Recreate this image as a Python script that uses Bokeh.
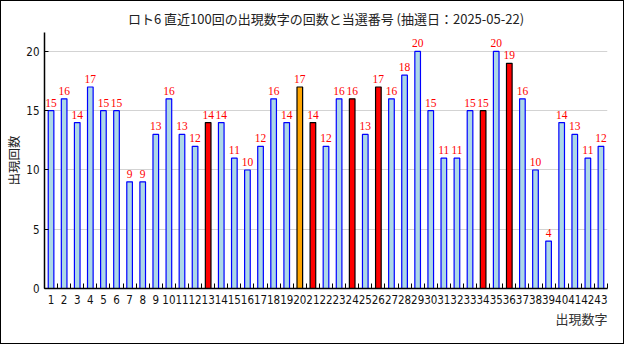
from bokeh.plotting import figure
from bokeh.models import ColumnDataSource, FixedTicker, Range1d, Title
from bokeh.embed import file_html
from bokeh.resources import INLINE

numbers = list(range(1, 44))
counts = [15, 16, 14, 17, 15, 15, 9, 9, 13, 16, 13, 12, 14, 14, 11, 10, 12, 16, 14, 17,
          14, 12, 16, 16, 13, 17, 16, 18, 20, 15, 11, 11, 15, 15, 20, 19, 16, 10, 4, 14,
          13, 11, 12]
main_numbers = [13, 21, 24, 26, 34, 36]
bonus_number = [20]
y_ticks = [0, 5, 10, 15, 20]

fills = []
lines = []
for n in numbers:
    if n in main_numbers:
        fills.append("#ff0000"); lines.append("#000000")
    elif n in bonus_number:
        fills.append("#ffa500"); lines.append("#000000")
    else:
        fills.append("#add8e6"); lines.append("#0000ff")

src = ColumnDataSource(dict(x=numbers, top=counts, fill=fills, line=lines,
                            lbl=[str(c) for c in counts]))

CJK = "Noto Sans CJK JP"
NUM = "DejaVu Sans Condensed"

p = figure(width=624, height=344, output_backend="svg", toolbar_location=None,
           x_range=Range1d(0.5, 43.5), y_range=Range1d(0, 21.6),
           min_border_left=40, min_border_right=18, min_border_top=30, min_border_bottom=57)
p.title.text = "ロト6 直近100回の出現数字の回数と当選番号 (抽選日：2025-05-22)"
p.title.align = "center"
p.title.text_font = CJK
p.title.text_font_size = "13px"
p.title.text_font_style = "normal"
p.title.text_color = "#222222"
p.title.standoff = 10

p.vbar(x="x", top="top", width=0.43, bottom=0, source=src,
       fill_color="fill", line_color="line", line_width=1.2)
p.text(x="x", y="top", text="lbl", source=src, text_color="#ff0000",
       text_font_size="11.5px", text_align="center", text_baseline="bottom",
       y_offset=-4, text_font=NUM)

p.outline_line_color = None
p.xgrid.grid_line_color = None
p.ygrid.grid_line_color = "#d3d3d3"
p.ygrid.ticker = FixedTicker(ticks=y_ticks[1:])

p.xaxis.ticker = FixedTicker(ticks=numbers, minor_ticks=[n + 0.5 for n in range(0, 44)])
p.xaxis.major_tick_in = 0
p.xaxis.major_tick_out = 0
p.xaxis.minor_tick_in = 5
p.xaxis.minor_tick_out = 0
p.xaxis.minor_tick_line_color = "black"
p.xaxis.major_label_text_font = NUM
p.xaxis.major_label_text_font_size = "11.5px"
p.xaxis.major_label_standoff = 6
p.xaxis.major_label_text_color = "#111111"

p.yaxis.ticker = FixedTicker(ticks=y_ticks)
p.yaxis.major_tick_in = 4
p.yaxis.major_tick_out = 0
p.yaxis.minor_tick_line_color = None
p.yaxis.major_label_text_font = NUM
p.yaxis.major_label_text_font_size = "11.5px"
p.yaxis.major_label_standoff = 5
p.yaxis.major_label_text_color = "#111111"
p.yaxis.axis_label = "出現回数"
p.yaxis.axis_label_text_font = CJK
p.yaxis.axis_label_text_font_size = "12.5px"
p.yaxis.axis_label_text_font_style = "normal"
p.yaxis.axis_label_text_color = "#222222"
p.yaxis.axis_label_standoff = 0

for ax in (p.xaxis, p.yaxis):
    ax.axis_line_color = "black"
    ax.axis_line_width = 1.5

p.add_layout(Title(text="出現数字", align="right", text_font=CJK, text_font_size="13px",
                   text_font_style="normal", text_color="#333333", standoff=0), "below")

p.styles = {"border": "1px solid black"}

open("out.html", "w").write(file_html(p, INLINE))
